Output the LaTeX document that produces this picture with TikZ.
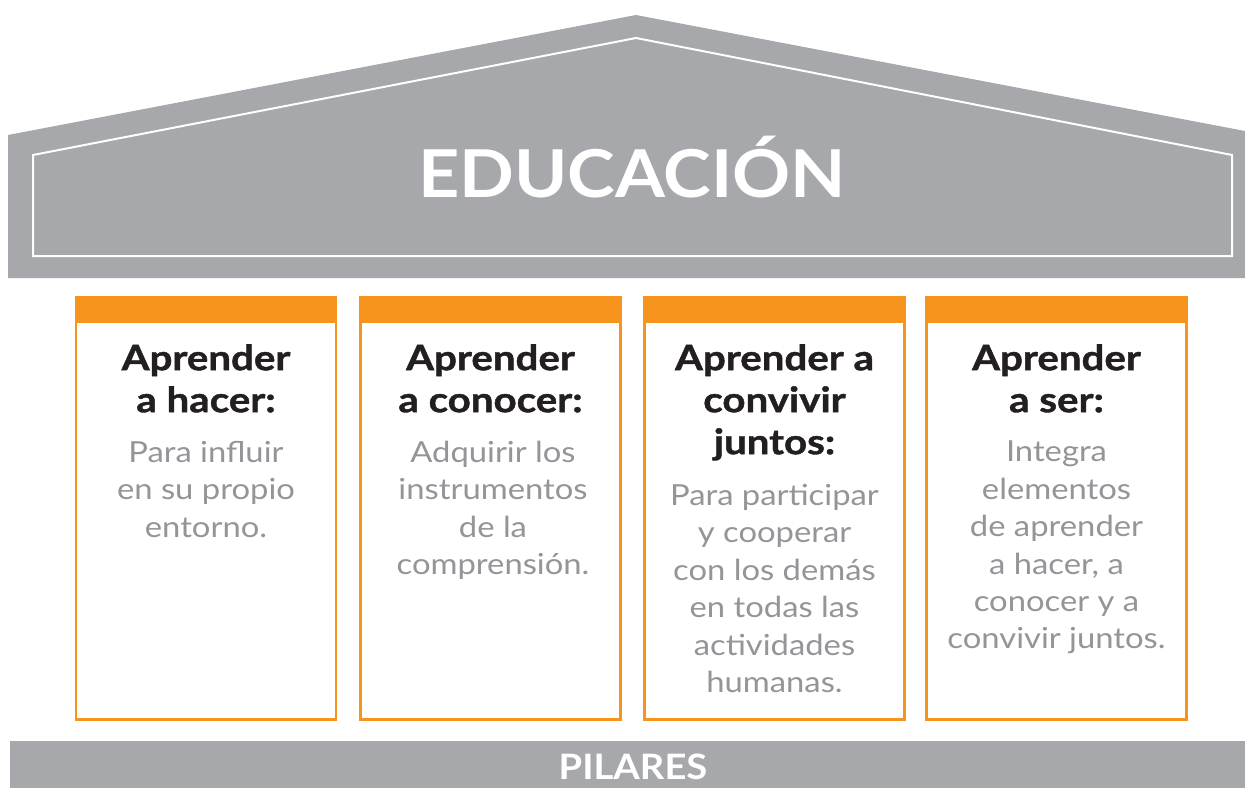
\documentclass[tikz,border=0pt]{standalone}
\usepackage{fontspec}
\setmainfont{Lato}
\newfontfamily\titlefont{Lato}[FakeStretch=1.15, BoldFeatures={FakeBold=1.2}]
\newfontfamily\bodyfont{Lato}[FakeStretch=1.13]
\newfontfamily\bigfont{Lato}[FakeStretch=1.09]
\definecolor{roofgray}{HTML}{A7A8AB}
\definecolor{pilorange}{HTML}{F7941D}
\definecolor{bodygray}{HTML}{939598}
\definecolor{titleblack}{HTML}{231F20}
\tikzset{
  pillar/.style={draw=pilorange, line width=2.5pt, fill=white, inner sep=0pt, minimum width=260pt, minimum height=422pt},
  header/.style={fill=pilorange, inner sep=0pt, minimum width=262.5pt, minimum height=27pt},
  ptitle/.style={anchor=north, align=center, inner sep=0pt, text=titleblack, font=\titlefont\bfseries\fontsize{35}{42}\selectfont},
  pbody/.style={anchor=north, align=center, inner sep=0pt, text=bodygray, font=\bodyfont\fontsize{29}{37.4}\selectfont},
  bigtext/.style={anchor=base, inner sep=0pt, text=white},
}
\begin{document}
\begin{tikzpicture}[x=1pt,y=-1pt]
\useasboundingbox (0,0) rectangle (1245,788);
% roof
\fill[roofgray] (8,135) -- (636,15) -- (1245,131) -- (1245,278) -- (8,278) -- cycle;
\draw[white, line width=2pt] (33,155) -- (636,38) -- (1232,155) -- (1232,256) -- (33,256) -- cycle;
\node[bigtext, font=\bigfont\bfseries\fontsize{66}{66}\selectfont] (edu) at (632,197) {EDUCACIÓN};
% pillars
\node[pillar] (box1) at (206,508.5) {};
\node[pillar] (box2) at (490.5,508.5) {};
\node[pillar] (box3) at (774.5,508.5) {};
\node[pillar] (box4) at (1056.5,508.5) {};
\node[header] (h1) at (206,309.5) {};
\node[header] (h2) at (490.5,309.5) {};
\node[header] (h3) at (774.5,309.5) {};
\node[header] (h4) at (1056.5,309.5) {};
% titles
\node[ptitle] (t1) at (206,344) {Aprender\\a hacer:};
\node[ptitle] (t2) at (490.5,344) {Aprender\\a conocer:};
\node[ptitle] (t3) at (774.5,344) {Aprender a\\convivir\\juntos:};
\node[ptitle] (t4) at (1056.5,344) {Aprender\\a ser:};
% bodies
\node[pbody] (b1) at (206,441) {Para influir\\en su propio\\entorno.};
\node[pbody] (b2) at (493,441) {Adquirir los\\instrumentos\\de la\\comprensión.};
\node[pbody] (b3) at (774.5,484) {Para participar\\y cooperar\\con los demás\\en todas las\\actividades\\humanas.};
\node[pbody] (b4) at (1056.5,441) {Integra\\elementos\\de aprender\\a hacer, a\\conocer y a\\convivir juntos.};
% base
\fill[roofgray] (10,741) rectangle (1245,788);
\node[bigtext, font=\bigfont\bfseries\fontsize{35}{35}\selectfont] (pil) at (633,779) {PILARES};
\end{tikzpicture}
\end{document}
